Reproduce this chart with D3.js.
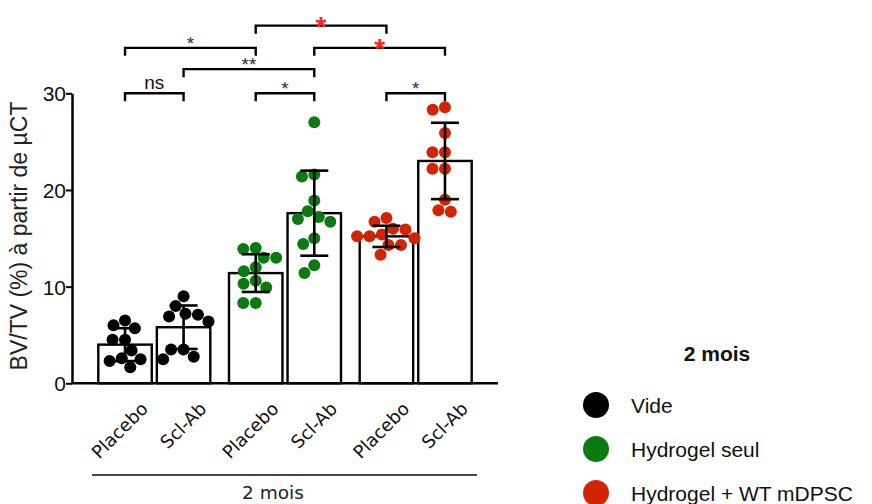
<!DOCTYPE html>
<html>
<head>
<meta charset="utf-8">
<script src="https://cdn.jsdelivr.net/npm/d3@7"></script>
<style>
  body { margin: 0; background: #fff; }
  svg { display: block; }
</style>
</head>
<body>
<div id="chart"></div>
<script>
// groups (legend) and treatments (x categories)
var groups = ['Vide', 'Hydrogel seul', 'Hydrogel + WT mDPSC'],
    groupColors = ['#000000', '#0b7a10', '#d42300'],
    treatments = ['Placebo', 'Scl-Ab'];

// bar means and SD, order: Vide/Placebo, Vide/Scl-Ab, Hydro/Placebo, ...
var means = [4.0, 5.8, 11.4, 17.6, 15.2, 23.0],
    sds = [1.7, 2.25, 1.95, 4.4, 1.1, 3.95];

// individual values
var pts0 = [6.0, 6.5, 5.7, 4.5, 4.5, 3.4, 2.5, 2.3, 2.6, 1.65],
    pts1 = [9.0, 8.0, 7.2, 7.1, 6.9, 6.4, 3.5, 3.5, 2.5, 2.75],
    pts2 = [13.9, 14.0, 13.0, 13.0, 12.0, 11.6, 10.6, 10.3, 9.9, 8.3, 8.3],
    pts3 = [27.0, 21.4, 21.6, 18.9, 17.2, 17.8, 16.7, 17.0, 15.0, 14.4, 12.2, 11.4],
    pts4 = [17.1, 16.7, 16.0, 15.9, 15.4, 15.2, 15.2, 15.0, 14.3, 14.3, 13.3],
    pts5 = [28.55, 28.3, 25.9, 23.9, 23.9, 22.2, 22.2, 19.0, 17.75, 17.9];
var allPts = [pts0, pts1, pts2, pts3, pts4, pts5];

// significance brackets: from bar, to bar, height (in y units), label, colour
var compFrom = [0, 2, 4, 1, 0, 3, 2],
    compTo = [1, 3, 5, 3, 2, 5, 4],
    compHeight = [30, 30, 30, 32.5, 34.7, 34.7, 37],
    compLabel = ['ns', '*', '*', '**', '*', '*', '*'],
    compRed = [false, false, false, false, false, true, true];

var yTicks = [0, 10, 20, 30];

var W = 872, H = 504;
var svg = d3.select('#chart').append('svg')
    .attr('width', W)
    .attr('height', H)
    .style('font-family', 'Liberation Sans, Arial, sans-serif');

var y = d3.scaleLinear().domain([0, 30]).range([383.3, 93.3]);

var xGroup = d3.scaleBand()
    .domain(d3.range(groups.length))
    .range([98.3, 471.7])
    .paddingInner(0.143)
    .paddingOuter(0);
var xTreat = d3.scaleBand()
    .domain(treatments)
    .range([0, xGroup.bandwidth()])
    .paddingInner(0.087);

var bars = d3.range(means.length).map(function(i) {
  var g = Math.floor(i / 2), t = treatments[i % 2];
  return {
    i: i,
    g: g,
    t: t,
    x: xGroup(g) + xTreat(t),
    cx: xGroup(g) + xTreat(t) + xTreat.bandwidth() / 2,
    mean: means[i],
    sd: sds[i],
    pts: allPts[i]
  };
});

// y axis
var yAxis = d3.axisLeft(y).tickValues(yTicks).tickSize(6).tickSizeOuter(0);
var ya = svg.append('g').attr('transform', 'translate(72,0)').call(yAxis);
ya.select('.domain').attr('stroke', '#000').attr('stroke-width', 2.5);
ya.selectAll('.tick line').attr('stroke', '#000').attr('stroke-width', 2);
ya.selectAll('.tick text')
    .attr('x', -6)
    .attr('dy', '0.36em')
    .style('font-size', '21px')
    .style('font-family', 'Liberation Sans, Arial, sans-serif')
    .attr('fill', '#111');

svg.append('text')
    .attr('transform', 'translate(27,236) rotate(-90)')
    .attr('text-anchor', 'middle')
    .style('font-size', '23px')
    .attr('fill', '#222')
    .text('BV/TV (%) à partir de µCT');

// bars
svg.selectAll('rect.bar')
  .data(bars)
  .enter()
    .append('rect')
      .attr('class', 'bar')
      .attr('x', function(d) { return d.x; })
      .attr('y', function(d) { return y(d.mean); })
      .attr('width', xTreat.bandwidth())
      .attr('height', function(d) { return y(0) - y(d.mean); })
      .attr('fill', '#fff')
      .attr('stroke', '#000')
      .attr('stroke-width', 2.4);

// simple beeswarm so dots sit beside each other like in Prism
function swarm(values, r) {
  var placed = [],
      order = values.map(function(v, k) { return k; })
        .sort(function(a, b) { return values[b] - values[a]; }),
      out = new Array(values.length);
  order.forEach(function(k) {
    var py = y(values[k]);
    var cands = [0];
    placed.forEach(function(p) {
      var dy = Math.abs(p.y - py);
      if (dy < r) {
        var dx = Math.sqrt(r * r - dy * dy);
        cands.push(p.x - dx, p.x + dx);
      }
    });
    cands.sort(function(a, b) { return Math.abs(a) - Math.abs(b) || a - b; });
    var best = 0;
    for (var c = 0; c < cands.length; c++) {
      var ok = placed.every(function(p) {
        var dx = p.x - cands[c], dy = p.y - py;
        return dx * dx + dy * dy >= r * r - 0.01;
      });
      if (ok) { best = cands[c]; break; }
    }
    placed.push({x: best, y: py});
    out[k] = {x: best, y: py, v: values[k]};
  });
  return out;
}

bars.forEach(function(b) {
  var sw = swarm(b.pts, 12.5);
  svg.append('g').selectAll('circle')
    .data(sw)
    .enter()
      .append('circle')
        .attr('cx', function(d) { return b.cx + d.x; })
        .attr('cy', function(d) { return d.y; })
        .attr('r', 6)
        .attr('fill', groupColors[b.g]);
});

// error bars (mean +/- SD)
var eb = svg.selectAll('g.err')
  .data(bars)
  .enter()
    .append('g')
      .attr('class', 'err')
      .attr('stroke', '#000')
      .attr('stroke-width', 2.6);
eb.append('line')
    .attr('x1', function(d) { return d.cx; })
    .attr('x2', function(d) { return d.cx; })
    .attr('y1', function(d) { return y(d.mean - d.sd); })
    .attr('y2', function(d) { return y(d.mean + d.sd); });
eb.append('line')
    .attr('x1', function(d) { return d.cx - 14; })
    .attr('x2', function(d) { return d.cx + 14; })
    .attr('y1', function(d) { return y(d.mean + d.sd); })
    .attr('y2', function(d) { return y(d.mean + d.sd); });
eb.append('line')
    .attr('x1', function(d) { return d.cx - 14; })
    .attr('x2', function(d) { return d.cx + 14; })
    .attr('y1', function(d) { return y(d.mean - d.sd); })
    .attr('y2', function(d) { return y(d.mean - d.sd); });

// x baseline
svg.append('line')
    .attr('x1', 72).attr('x2', 498)
    .attr('y1', y(0)).attr('y2', y(0))
    .attr('stroke', '#000')
    .attr('stroke-width', 2.5);

// x labels
svg.selectAll('text.xlab')
  .data(bars)
  .enter()
    .append('text')
      .attr('class', 'xlab')
      .attr('transform', function(d) {
        return 'translate(' + (d.cx + 24) + ',410) rotate(-45)';
      })
      .attr('text-anchor', 'end')
      .style('font-family', 'DejaVu Sans, Verdana, sans-serif')
      .style('font-size', '18px')
      .attr('fill', '#111')
      .text(function(d) { return d.t; });

svg.append('line')
    .attr('x1', 92).attr('x2', 477)
    .attr('y1', 475).attr('y2', 475)
    .attr('stroke', '#444')
    .attr('stroke-width', 1.8);
svg.append('text')
    .attr('x', 273).attr('y', 499)
    .attr('text-anchor', 'middle')
    .style('font-family', 'DejaVu Sans, Verdana, sans-serif')
    .style('font-size', '18.5px')
    .attr('fill', '#222')
    .text('2 mois');

// significance brackets
var comps = compFrom.map(function(f, k) {
  return {
    x1: bars[f].cx,
    x2: bars[compTo[k]].cx,
    yy: y(compHeight[k]),
    label: compLabel[k],
    red: compRed[k]
  };
});
svg.selectAll('path.brk')
  .data(comps)
  .enter()
    .append('path')
      .attr('class', 'brk')
      .attr('d', function(d) {
        return 'M' + d.x1 + ',' + (d.yy + 8) + 'V' + d.yy + 'H' + d.x2 + 'V' + (d.yy + 8);
      })
      .attr('fill', 'none')
      .attr('stroke', '#000')
      .attr('stroke-width', 2.4);
svg.selectAll('text.sig')
  .data(comps)
  .enter()
    .append('text')
      .attr('class', 'sig')
      .attr('x', function(d) { return (d.x1 + d.x2) / 2; })
      .attr('y', function(d) {
        if (d.red) return d.yy + 10;
        return d.label === 'ns' ? d.yy - 4 : d.yy + 2;
      })
      .attr('text-anchor', 'middle')
      .style('font-size', function(d) { return d.red ? '28px' : '19px'; })
      .style('font-weight', function(d) { return d.red ? 'bold' : 'normal'; })
      .attr('fill', function(d) { return d.red ? '#ff2418' : (d.label === 'ns' ? '#111' : '#2a2a44'); })
      .text(function(d) { return d.label; });

// legend
var legend = svg.append('g');
legend.append('text')
    .attr('x', 717).attr('y', 361)
    .attr('text-anchor', 'middle')
    .style('font-size', '21px')
    .style('font-weight', 'bold')
    .attr('fill', '#111')
    .text('2 mois');
var li = legend.selectAll('g.li')
  .data(groups)
  .enter()
    .append('g')
      .attr('class', 'li')
      .attr('transform', function(d, i) { return 'translate(596,' + (405 + i * 44) + ')'; });
li.append('circle')
    .attr('r', 13)
    .attr('fill', function(d, i) { return groupColors[i]; });
li.append('text')
    .attr('x', 35)
    .attr('y', 8)
    .style('font-size', '21px')
    .attr('fill', '#111')
    .text(function(d) { return d; });
</script>
</body>
</html>
